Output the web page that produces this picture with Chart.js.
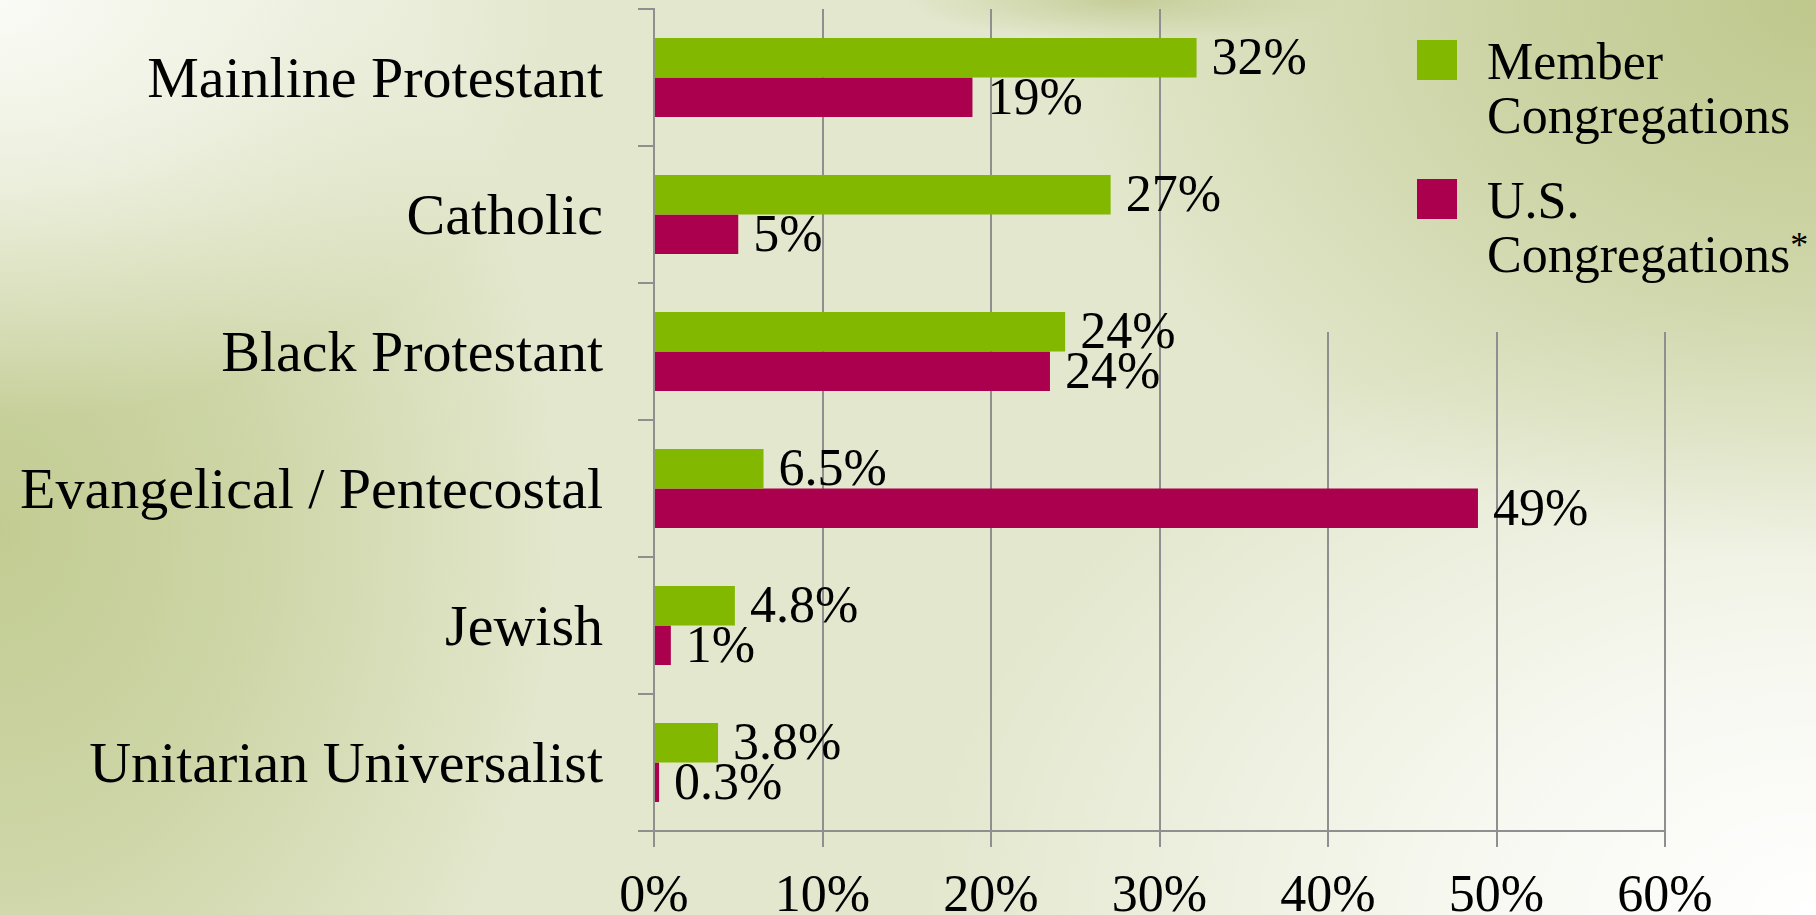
<!DOCTYPE html>
<html>
<head>
<meta charset="utf-8">
<script src="https://cdn.jsdelivr.net/npm/chart.js@4.4.1/dist/chart.umd.min.js"></script>
<style>
  html, body { margin:0; padding:0; width:1816px; height:915px; overflow:hidden; }
  .bg {
    background:
      radial-gradient(ellipse 560px 420px at 0% 0%, rgba(250,251,246,1) 0%, rgba(250,251,246,0.65) 45%, rgba(250,251,246,0) 100%),
      radial-gradient(ellipse 220px 40px at 62% 0%, rgba(196,204,150,0.95) 0%, rgba(196,204,150,0) 100%),
      radial-gradient(ellipse 760px 560px at 100% 0%, rgba(190,200,140,1) 0%, rgba(190,200,140,0.55) 50%, rgba(190,200,140,0) 100%),
      radial-gradient(ellipse 900px 620px at 100% 100%, rgba(255,255,255,1) 0%, rgba(255,255,255,0.7) 40%, rgba(255,255,255,0) 100%),
      radial-gradient(ellipse 560px 720px at 0% 58%, rgba(194,204,146,1) 0%, rgba(194,204,146,0.65) 45%, rgba(194,204,146,0) 100%),
      #e3e7cd;
    background-attachment: fixed;
  }
  #wrap { position:relative; width:1816px; height:915px; }
  canvas { position:absolute; left:0; top:0; }
  #legend {
    position:absolute; left:1315px; top:0; width:501px; height:332px;
    font-family:"Liberation Serif", "Times New Roman", serif; font-size:52px; line-height:54px; color:#000;
  }
  .item { position:absolute; left:172px; }
  .sw { position:absolute; left:-70px; top:5px; width:40px; height:40px; }
  .item sup { font-size:36px; position:relative; top:-15px; vertical-align:baseline; }
</style>
</head>
<body class="bg">
<div id="wrap">
  <canvas id="c" width="1816" height="915"></canvas>
  <div id="legend" class="bg"></div>
</div>
<script>
const categories = ['Mainline Protestant', 'Catholic', 'Black Protestant', 'Evangelical / Pentecostal', 'Jewish', 'Unitarian Universalist'];
const memberValues = [32.2, 27.1, 24.4, 6.5, 4.8, 3.8];
const usValues = [18.9, 5.0, 23.5, 48.9, 1.0, 0.3];
const memberLabels = ['32%', '27%', '24%', '6.5%', '4.8%', '3.8%'];
const usLabels = ['19%', '5%', '24%', '49%', '1%', '0.3%'];
const xTickValues = [0, 10, 20, 30, 40, 50, 60];
const seriesNames = ['Member Congregations', 'U.S. Congregations'];
const seriesColors = ['#82b800', '#ab004e'];
const labelSets = [memberLabels, usLabels];

// HTML legend
const legendEl = document.getElementById('legend');
const legendTops = [34.5, 173.5];
seriesNames.forEach((name, i) => {
  const it = document.createElement('div');
  it.className = 'item';
  it.style.top = legendTops[i] + 'px';
  const sw = document.createElement('span');
  sw.className = 'sw';
  sw.style.background = seriesColors[i];
  it.appendChild(sw);
  const words = name.split(' ');
  it.appendChild(document.createTextNode(words[0]));
  it.appendChild(document.createElement('br'));
  it.appendChild(document.createTextNode(words.slice(1).join(' ')));
  if (i === 1) {
    const s = document.createElement('sup');
    s.textContent = '*';
    it.appendChild(s);
  }
  legendEl.appendChild(it);
});

const valueLabels = {
  id: 'valueLabels',
  afterDatasetsDraw(chart) {
    const ctx = chart.ctx;
    ctx.save();
    ctx.font = '52px "Liberation Serif"';
    ctx.fillStyle = '#000';
    ctx.textBaseline = 'middle';
    ctx.textAlign = 'left';
    chart.data.datasets.forEach((ds, i) => {
      const meta = chart.getDatasetMeta(i);
      meta.data.forEach((bar, j) => {
        ctx.fillText(labelSets[i][j], bar.x + 15, bar.y + 3);
      });
    });
    ctx.restore();
  }
};

const gridColor = '#8f8f8f';
new Chart(document.getElementById('c'), {
  type: 'bar',
  data: {
    labels: categories,
    datasets: [
      { label: seriesNames[0], data: memberValues, backgroundColor: seriesColors[0], borderWidth: 0 },
      { label: seriesNames[1], data: usValues, backgroundColor: seriesColors[1], borderWidth: 0 }
    ]
  },
  options: {
    indexAxis: 'y',
    responsive: false,
    devicePixelRatio: 1,
    animation: false,
    datasets: { bar: { categoryPercentage: 0.577, barPercentage: 1.0 } },
    layout: { padding: { top: 9, right: 151, left: 0, bottom: 0 } },
    plugins: { legend: { display: false }, tooltip: { enabled: false } },
    scales: {
      x: {
        type: 'linear', min: 0, max: 60,
        afterBuildTicks(scale) { scale.ticks = xTickValues.map(v => ({ value: v })); },
        afterFit(scale) { scale.height = 84; scale.paddingLeft = 0; scale.paddingRight = 0; },
        ticks: {
          callback: v => v + '%',
          font: { family: '"Liberation Serif"', size: 52 },
          color: '#000', padding: 19, maxRotation: 0, autoSkip: false
        },
        grid: { color: gridColor, lineWidth: 2, tickLength: 16, drawTicks: true },
        border: { display: true, color: gridColor, width: 2 }
      },
      y: {
        type: 'category',
        afterFit(scale) { scale.width = 654; scale.paddingTop = 0; scale.paddingBottom = 0; },
        ticks: {
          font: { family: '"Liberation Serif"', size: 58 },
          color: '#000', padding: 35, autoSkip: false, labelOffset: 4
        },
        grid: { drawOnChartArea: false, drawTicks: true, tickLength: 16, color: gridColor, lineWidth: 2, offset: true },
        border: { display: true, color: gridColor, width: 2 }
      }
    }
  },
  plugins: [valueLabels]
});
</script>
</body>
</html>
